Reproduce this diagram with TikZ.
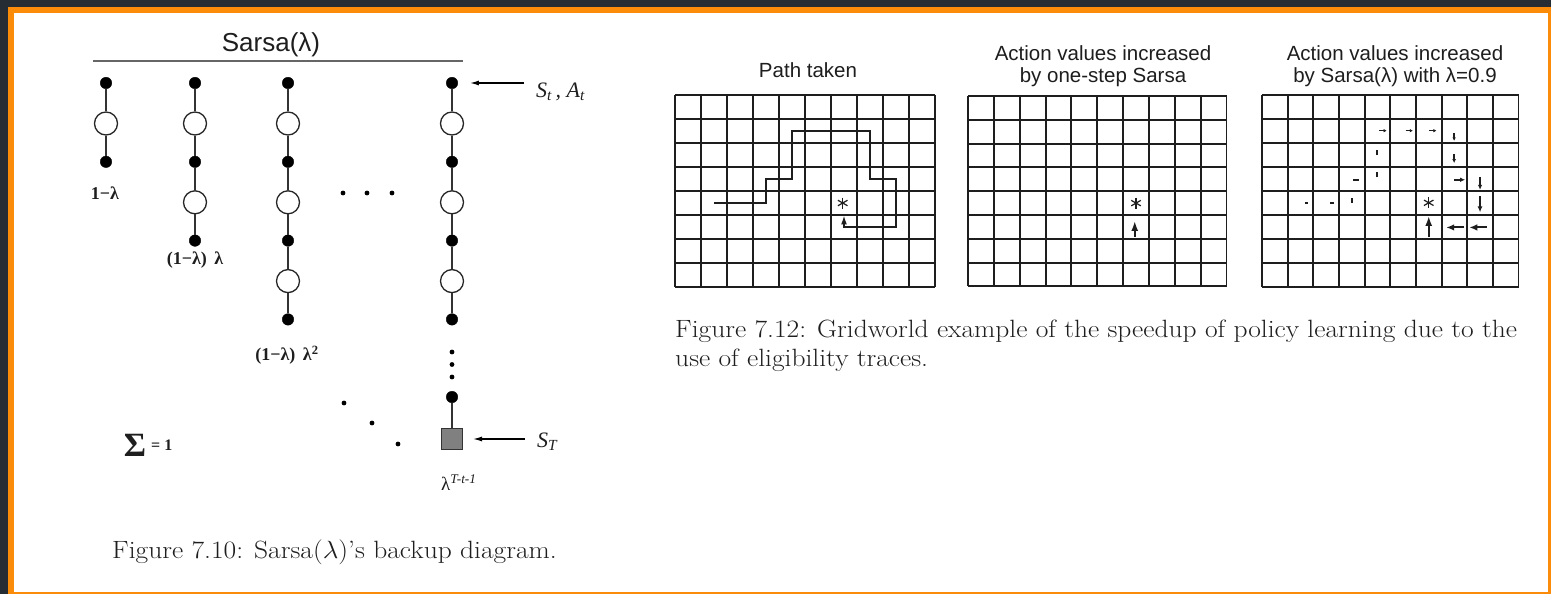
\documentclass[tikz,border=0pt]{standalone}
\usepackage{fontspec}
\newfontfamily\arialf{Liberation Sans}
\newfontfamily\tnrf{Liberation Serif}
\usetikzlibrary{arrows.meta}
\definecolor{darkbg}{RGB}{38,44,52}
\definecolor{frameor}{RGB}{250,140,10}
\definecolor{ink}{RGB}{30,30,30}
\tikzset{
  fdot/.style={circle, fill=black, draw=black, minimum size=11.5pt, inner sep=0pt},
  odot/.style={circle, draw=black!85, fill=white, line width=1.3pt, minimum size=23pt, inner sep=0pt},
  sdot/.style={circle, fill=black, minimum size=4.8pt, inner sep=0pt},
  termbox/.style={rectangle, fill=black!50, draw=black!80, line width=1pt, minimum size=21pt, inner sep=0pt},
  conn/.style={draw=black!80, line width=1.5pt},
  arr/.style={draw=black, line width=1.2pt, -{Latex[length=9pt,width=5pt]}},
  lab/.style={font=\tnrf\bfseries\fontsize{18}{20}\selectfont, text=ink, inner sep=0pt},
  mlab/.style={font=\tnrf\itshape\fontsize{22}{26}\selectfont, text=ink, inner sep=0pt},
  capt/.style={font=\fontsize{25}{30}\selectfont, text=ink, inner sep=0pt},
  sanstitle/.style={font=\arialf\fontsize{20.5}{22.5}\selectfont, text=ink, inner sep=0pt, align=center},
  gridline/.style={draw=ink, line width=1.9pt},
  pathline/.style={draw=ink, line width=1.5pt},
  astline/.style={draw=ink, line width=1.2pt},
}
\begin{document}
\begin{tikzpicture}[x=1pt,y=-1pt]
\useasboundingbox (0,0) rectangle (1551,594);
\fill[darkbg] (0,0) rectangle (1551,594);
\fill[frameor] (8,7) rectangle (1551,594);
\fill[white] (14,13) rectangle (1548,591.5);

% ---------- Sarsa(lambda) backup diagram ----------
\node[font=\arialf\fontsize{26}{29}\selectfont, text=ink, inner sep=0pt] (title) at (271,45) {Sarsa(λ)};
\draw[draw=black!60, line width=2.4pt] (93,61) -- (463,61);

\foreach \cx/\cn/\k in {106/a/1, 195/b/2, 288/c/3, 452/d/3} {
  \foreach \i in {0,...,\k} {
    \node[fdot] (\cn-f\i) at (\cx,{83+78.8*\i}) {};
  }
  \pgfmathtruncatemacro\km{\k-1}
  \foreach \i in {0,...,\km} {
    \pgfmathtruncatemacro\j{\i+1}
    \node[odot] (\cn-o\i) at (\cx,{123.5+78.8*\i}) {};
    \draw[conn] (\cn-f\i) -- (\cn-o\i);
    \draw[conn] (\cn-o\i) -- (\cn-f\j);
  }
}
% continuation of the last column
\node[sdot] (d-v1) at (452,352) {};
\node[sdot] (d-v2) at (452,364.5) {};
\node[sdot] (d-v3) at (452,377) {};
\node[fdot] (d-fe) at (452,397) {};
\node[termbox] (d-sq) at (452,439) {};
\draw[conn] (d-fe) -- (d-sq);

% horizontal and diagonal ellipses
\node[sdot] (h1) at (343,193) {};
\node[sdot] (h2) at (367,193) {};
\node[sdot] (h3) at (392,193) {};
\node[sdot] (g1) at (344,403) {};
\node[sdot] (g2) at (372,423) {};
\node[sdot] (g3) at (398,444) {};

% weights
\node[lab] (w1) at (105,193) {1−λ};
\node[lab] (w2) at (195,260) {(1−λ)\, λ};
\node[lab] (w3) at (287,355) {(1−λ)\, λ\textsuperscript{2}};
\node[font=\tnrf\fontsize{19}{22}\selectfont, text=ink, inner sep=0pt, anchor=base west] (w4) at (441,490) {λ\textsuperscript{\itshape T-t-1}};
\node[font=\tnrf\bfseries\fontsize{34}{34}\selectfont, text=ink, inner sep=0pt] (sig) at (135,445) {Σ};
\node[font=\tnrf\bfseries\fontsize{16}{17}\selectfont, text=ink, inner sep=0pt, anchor=base west] (sigeq) at (151,450) {= 1};

% state labels and arrows
\node[mlab, anchor=base west] (sa) at (536,97) {S\textsubscript{t}\,, A\textsubscript{t}};
\coordinate (sa-tail) at (524,83);
\draw[arr, shorten >=12pt] (sa-tail) -- (d-f0);
\node[mlab, anchor=base west] (st) at (537,447) {S\textsubscript{T}};
\coordinate (st-tail) at (525,439);
\draw[arr, shorten >=10pt] (st-tail) -- (d-sq);

\node[capt, anchor=base west] (cap1) at (112,558) {\scalebox{1.1}[1]{Figure 7.10: Sarsa($\lambda$)'s backup diagram.}};

% ---------- Gridworlds ----------
\node[sanstitle] (t1) at (808,70) {Path taken};
\node[sanstitle] (t2) at (1103,66) {Action values increased\\by one-step Sarsa};
\node[sanstitle] (t3) at (1395,66) {Action values increased\\by Sarsa(λ) with λ=0.9};

% grid 1
\begin{scope}[shift={(675,95)}, x=26pt, y=-24pt]
  \foreach \i in {0,...,10} \draw[gridline] (\i,0) -- (\i,8);
  \foreach \j in {0,...,8} \draw[gridline] (0,\j) -- (10,\j);
  \draw[pathline, line join=miter, -{Latex[length=9pt,width=6pt]}]
    (1.5,4.5) -- (3.5,4.5) -- (3.5,3.5) -- (4.5,3.5) -- (4.5,1.5) -- (7.5,1.5)
    -- (7.5,3.5) -- (8.5,3.5) -- (8.5,5.5) -- (6.5,5.5) -- (6.5,5.02);
  \foreach \a in {90,30,150} \draw[astline] (6.45,4.5) ++(\a:5.5pt) -- ++(\a+180:11pt);
\end{scope}

% grid 2
\begin{scope}[shift={(968,96)}, x=25.85pt, y=-23.8pt]
  \foreach \i in {0,...,10} \draw[gridline] (\i,0) -- (\i,8);
  \foreach \j in {0,...,8} \draw[gridline] (0,\j) -- (10,\j);
  \foreach \a in {90,30,150} \draw[astline] (6.5,4.5) ++(\a:5.5pt) -- ++(\a+180:11pt);
  \draw[draw=ink, line width=2pt, -{Latex[length=10pt,width=7pt]}] (6.45,5.93) -- (6.45,5.25);
\end{scope}

% grid 3
\begin{scope}[shift={(1262,95)}, x=25.65pt, y=-23.95pt]
  \foreach \i in {0,...,10} \draw[gridline] (\i,0) -- (\i,8);
  \foreach \j in {0,...,8} \draw[gridline] (0,\j) -- (10,\j);
  \foreach \a in {90,30,150} \draw[astline] (6.5,4.5) ++(\a:5.5pt) -- ++(\a+180:11pt);
  % tiny traces
  \draw[draw=ink, line width=1.8pt] (1.67,4.5) -- (1.8,4.5);
  \draw[draw=ink, line width=1.8pt] (2.67,4.5) -- (2.8,4.5);
  \draw[draw=ink, line width=1.6pt] (3.5,4.5) -- (3.5,4.28);
  \draw[draw=ink, line width=1.6pt] (3.56,3.54) -- (3.78,3.54);
  \draw[draw=ink, line width=1.6pt] (4.48,3.44) -- (4.48,3.22);
  \draw[draw=ink, line width=1.6pt] (4.48,2.51) -- (4.48,2.29);
  % small arrows
  \draw[draw=ink, line width=1.5pt, -{Latex[length=3pt,width=3.5pt]}] (4.58,1.49) -- (4.86,1.49);
  \draw[draw=ink, line width=1.5pt, -{Latex[length=3pt,width=3.5pt]}] (5.6,1.49) -- (5.88,1.49);
  \draw[draw=ink, line width=1.5pt, -{Latex[length=3pt,width=3.5pt]}] (6.52,1.49) -- (6.8,1.49);
  \draw[draw=ink, line width=1.5pt, -{Latex[length=3.5pt,width=3.5pt]}] (7.49,1.58) -- (7.49,1.92);
  \draw[draw=ink, line width=1.5pt, -{Latex[length=4pt,width=4pt]}] (7.49,2.46) -- (7.49,2.84);
  \draw[draw=ink, line width=1.7pt, -{Latex[length=5pt,width=4.5pt]}] (7.5,3.54) -- (7.92,3.54);
  \draw[draw=ink, line width=1.7pt, -{Latex[length=5pt,width=4.5pt]}] (8.5,3.42) -- (8.5,3.96);
  \draw[draw=ink, line width=1.8pt, -{Latex[length=6pt,width=5pt]}] (8.5,4.22) -- (8.5,4.9);
  % larger arrows
  \draw[draw=ink, line width=2pt, -{Latex[length=8pt,width=6.5pt]}] (8.78,5.53) -- (8.08,5.53);
  \draw[draw=ink, line width=2pt, -{Latex[length=8pt,width=6.5pt]}] (7.88,5.53) -- (7.18,5.53);
  \draw[draw=ink, line width=2pt, -{Latex[length=10pt,width=7pt]}] (6.5,5.93) -- (6.5,5.05);
\end{scope}

\node[capt, anchor=base west] (cap2a) at (675,337) {\scalebox{1.1}[1]{Figure 7.12: Gridworld example of the speedup of policy learning due to the}};
\node[capt, anchor=base west] (cap2b) at (675,366) {\scalebox{1.1}[1]{use of eligibility traces.}};
\end{tikzpicture}
\end{document}
